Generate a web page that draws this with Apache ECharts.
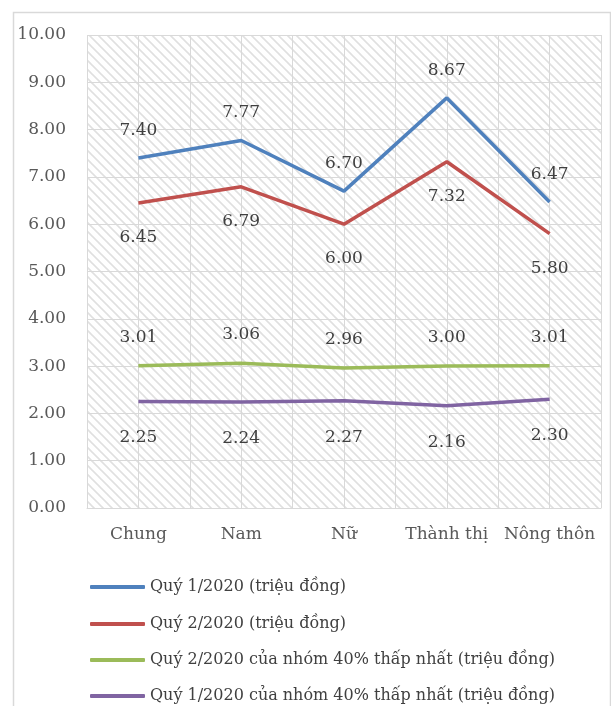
<!DOCTYPE html>
<html>
<head>
<meta charset="utf-8">
<script src="https://cdn.jsdelivr.net/npm/echarts@6/dist/echarts.min.js"></script>
<style>
html,body{margin:0;padding:0;background:#fff;}
#main{width:611px;height:706px;}
</style>
</head>
<body>
<div id="main"></div>
<script>
const categories = ['Chung', 'Nam', 'Nữ', 'Thành thị', 'Nông thôn'];
const seriesNames = [
  'Quý 1/2020 (triệu đồng)',
  'Quý 2/2020 (triệu đồng)',
  'Quý 2/2020 của nhóm 40% thấp nhất (triệu đồng)',
  'Quý 1/2020 của nhóm 40% thấp nhất (triệu đồng)'
];
const q1 = [7.40, 7.77, 6.70, 8.67, 6.47];
const q2 = [6.45, 6.79, 6.00, 7.32, 5.80];
const q2Low40 = [3.01, 3.06, 2.96, 3.00, 3.01];
const q1Low40 = [2.25, 2.24, 2.27, 2.16, 2.30];
const yTicks = [0, 1, 2, 3, 4, 5, 6, 7, 8, 9, 10];

// hatch pattern
const P = 9;
const pc = document.createElement('canvas');
pc.width = P; pc.height = P;
const ctx = pc.getContext('2d');
ctx.fillStyle = '#ffffff';
ctx.fillRect(0, 0, P, P);
ctx.strokeStyle = '#e0e0e0';
ctx.lineWidth = 1.6;
for (let o = -P; o <= P; o += P) {
  ctx.beginPath();
  ctx.moveTo(o - 1, -1);
  ctx.lineTo(o + P + 1, P + 1);
  ctx.stroke();
}

const FONT = '"DejaVu Serif", serif';
const halfCats = [];
for (let i = 0; i < categories.length * 2; i++) halfCats.push(String(i));

const chart = echarts.init(document.getElementById('main'), null, {renderer: 'canvas'});
const labelStyle = {show: true, fontFamily: FONT, fontSize: 17, color: '#404040',
  formatter: p => Number(p.value).toFixed(2)};
function mk(name, data, color, pos, dist) {
  return {
    name: name, type: 'line', data: data, xAxisIndex: 0,
    symbol: 'circle', symbolSize: 0, showSymbol: true, smooth: false,
    lineStyle: {color: color, width: 3.5},
    itemStyle: {color: color},
    label: Object.assign({position: pos, distance: dist}, labelStyle),
    emphasis: {disabled: true}
  };
}
const colors = ['#4F81BD', '#C0504D', '#9BBB59', '#8064A2'];
const legendTops = [574, 611, 647, 683];
const legends = seriesNames.map((n, i) => ({
  orient: 'vertical', left: 85, top: legendTops[i],
  itemWidth: 55, itemHeight: 4, itemGap: 0,
  icon: 'roundRect',
  data: [n],
  textStyle: {fontFamily: FONT, fontSize: 16, color: '#404040', lineHeight: 16}
}));
chart.setOption({
  animation: false,
  backgroundColor: '#ffffff',
  graphic: [{
    type: 'rect', left: 11, top: 10, silent: true,
    shape: {width: 597, height: 720},
    style: {fill: 'none', stroke: '#d9d9d9', lineWidth: 1.5}
  }],
  grid: {
    left: 87, right: 10, top: 35, bottom: 198,
    show: true, borderWidth: 0,
    backgroundColor: {image: pc, repeat: 'repeat'}
  },
  legend: legends,
  xAxis: [{
    type: 'category', data: categories, boundaryGap: true,
    axisLine: {show: true, lineStyle: {color: '#d9d9d9', width: 1}},
    axisTick: {show: false},
    splitLine: {show: false},
    axisLabel: {fontFamily: FONT, fontSize: 17, color: '#595959', margin: 18, interval: 0}
  }, {
    type: 'category', data: halfCats, boundaryGap: true, position: 'bottom',
    axisLine: {show: false}, axisTick: {show: false}, axisLabel: {show: false},
    splitLine: {show: true, interval: 0, lineStyle: {color: '#d9d9d9', width: 1}}
  }],
  yAxis: {
    type: 'value', min: 0, max: 10, interval: 1,
    axisLine: {show: false}, axisTick: {show: false},
    splitLine: {show: true, lineStyle: {color: '#d9d9d9', width: 1}},
    axisLabel: {fontFamily: FONT, fontSize: 17, color: '#595959', margin: 21,
      formatter: v => yTicks.indexOf(v) >= 0 ? v.toFixed(2) : ''}
  },
  series: [
    mk(seriesNames[0], q1, colors[0], 'top', 19),
    mk(seriesNames[1], q2, colors[1], 'bottom', 26),
    mk(seriesNames[2], q2Low40, colors[2], 'top', 20),
    mk(seriesNames[3], q1Low40, colors[3], 'bottom', 28)
  ]
});
</script>
</body>
</html>
